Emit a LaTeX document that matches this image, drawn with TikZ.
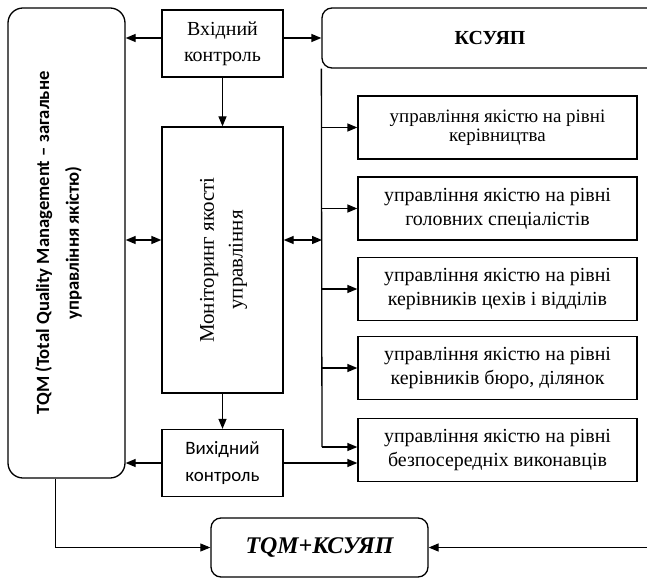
\documentclass[tikz,border=0pt]{standalone}
\usepackage{fontspec}
\setmainfont{Liberation Serif}
\newfontfamily\calibri{Carlito}
\usetikzlibrary{arrows.meta}

\tikzset{
  block/.style={draw, line width=1.3bp, align=center, inner sep=2bp,
    font=\fontsize{20}{24}\selectfont},
  ctlbox/.style={block, minimum width=121bp, minimum height=67bp},
  levelbox/.style={block, minimum width=279bp, minimum height=63bp},
  link/.style={line width=1.3bp},
}

\begin{document}
\begin{tikzpicture}[x=1bp, y=-1bp, >={Triangle[length=10bp,width=8bp]}]
    \clip (0,0) rectangle (647,578);

    % ========== LEFT: TQM ==========
    \node[block, rounded corners=15bp, minimum width=117bp, minimum height=470bp] (tqm) at (66.5,243) {};
    \node[inner sep=0pt] (tqmtext) at (58,243)
        {\rotatebox{90}{\calibri\bfseries\fontsize{18.7}{30}\selectfont
         \begin{tabular}{@{}c@{}}TQM (Total Quality Management – загальне\\управління якістю)\end{tabular}}};

    % ========== MIDDLE COLUMN ==========
    \node[ctlbox, font=\fontsize{20}{26}\selectfont] (inctl) at (222.5,43.5) {Вхідний\\контроль};
    \node[block, minimum width=121bp, minimum height=266bp] (mon) at (222.5,260)
        {\rotatebox{90}{\fontsize{21}{29}\selectfont
         \begin{tabular}{@{}c@{}}Моніторинг якості\\управління\end{tabular}}};
    \node[ctlbox, font=\calibri\fontsize{19}{27}\selectfont] (outctl) at (222.5,463) {Вихідний\\контроль};

    % ========== RIGHT: KSUYAP ==========
    \node[block, rounded corners=10bp, minimum width=336bp, minimum height=60bp,
          font=\bfseries\fontsize{20}{24}\selectfont] (ksuyap) at (490,38) {КСУЯП};

    \node[levelbox, font=\fontsize{19}{19}\selectfont] (lvl1) at (497.5,127.5) {управління якістю на рівні\\керівництва};
    \node[levelbox] (lvl2) at (497.5,208.5) {управління якістю на рівні\\головних спеціалістів};
    \node[levelbox] (lvl3) at (497.5,289) {управління якістю на рівні\\керівників цехів і відділів};
    \node[levelbox] (lvl4) at (497.5,368) {управління якістю на рівні\\керівників бюро, ділянок};
    \node[levelbox] (lvl5) at (497.5,450) {управління якістю на рівні\\безпосередніх виконавців};

    % ========== BOTTOM ==========
    \node[block, rounded corners=10bp, minimum width=217bp, minimum height=59bp,
          font=\bfseries\itshape\fontsize{24}{28}\selectfont] (final) at (319.5,547.5) {TQM+КСУЯП};

    % Helper points
    \coordinate (midrow) at (0,240);
    \coordinate (busend) at (322,447);
    \coordinate (rightend) at (648,547.5);

    % Input control links
    \draw[link, ->] (inctl.west |- ksuyap.west) -- (tqm.east |- ksuyap.west);
    \draw[link, ->] (inctl.east |- ksuyap.west) -- (ksuyap.west);
    \draw[link, ->] (inctl) -- (mon);

    % Monitoring links
    \draw[link, <->] (tqm.east |- midrow) -- (mon.west |- midrow);
    \draw[link, <->] (mon.east |- midrow) -- (busend |- midrow);
    \draw[link, ->] (mon) -- (outctl);

    % Bus to the levels
    \draw[link] (ksuyap.south west) -- (busend);
    \foreach \i in {1,...,4}
        \draw[link, ->] (busend |- lvl\i.west) -- (lvl\i.west);
    \draw[link, ->] (busend) -- (lvl5.west |- busend);

    % Output control links
    \draw[link, ->] (outctl.west) -- (tqm.east |- outctl.west);
    \draw[link, ->] (outctl.east) -- (lvl5.west |- outctl.east);

    % Into TQM+KSUYAP
    \draw[line width=0.8bp, ->] ([xshift=-11.5bp]tqm.south) |- (final.west);
    \draw[link, ->] (rightend) -- (final.east);

\end{tikzpicture}
\end{document}
